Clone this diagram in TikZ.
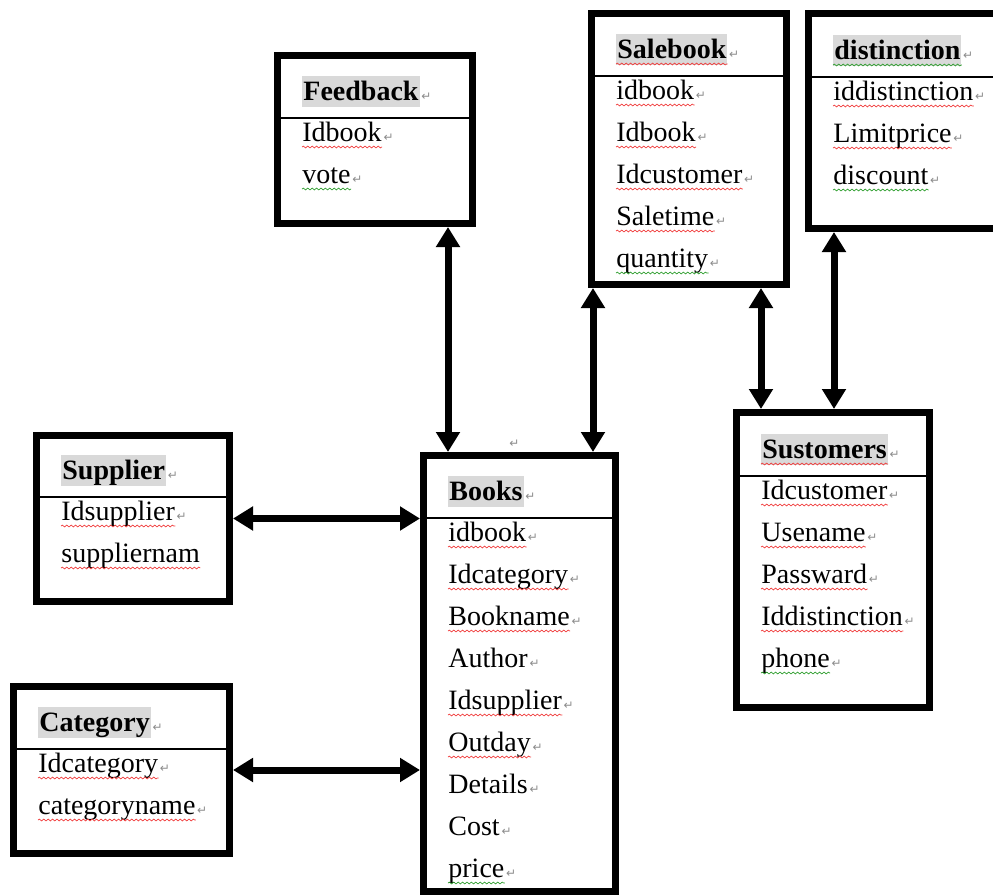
\documentclass[tikz,border=0pt]{standalone}
\usepackage{fontspec}
\setmainfont{Liberation Serif}
\newfontfamily\markfont{DejaVu Sans}
\usetikzlibrary{arrows.meta,decorations.pathmorphing}
\definecolor{hlgray}{HTML}{D9D9D9}
\definecolor{spellred}{HTML}{F03C3C}
\definecolor{spellgreen}{HTML}{2E9E2E}
\definecolor{markgray}{HTML}{8C8C8C}
\newcommand\rowfont{\fontsize{14}{17}\selectfont}

\tikzset{
  entity/.style={draw, line width=3.5pt, rectangle, inner sep=0pt, anchor=north west},
  sepline/.style={line width=.75pt, black},
  field/.style={anchor=base west, inner sep=0pt, font=\rowfont},
  tablename/.style={field, font=\rowfont\bfseries, fill=hlgray, inner xsep=.5pt, text height=12pt, text depth=3.5pt},
  retmark/.style={anchor=base west, inner sep=0pt, xshift=.5pt, font=\markfont\fontsize{6}{7}\selectfont, text=markgray},
  ret/.style={append after command={node[retmark] at (\tikzlastnode.base east) {↵}}},
  wavy/.style={decorate, decoration={snake, amplitude=.45pt, segment length=2.2pt}, line width=.35pt},
  typo/.style={append after command={([yshift=-3pt]\tikzlastnode.base west) edge[wavy, spellred] ([yshift=-3pt]\tikzlastnode.base east)}},
  gram/.style={append after command={([yshift=-3pt]\tikzlastnode.base west) edge[wavy, spellgreen] ([yshift=-3pt]\tikzlastnode.base east)}},
  link/.style={line width=3.5pt, {Triangle[width=11.5pt,length=10pt]}-{Triangle[width=11.5pt,length=10pt]}}
}

\begin{document}
\begin{tikzpicture}[x=0.5pt, y=-0.5pt]
\useasboundingbox (0,0) rectangle (993,895);
\clip (0,0) rectangle (993,895);

% tables
\node[entity, minimum width=97.5pt, minimum height=84pt] (feedback) at (274,52) {};
\node[entity, minimum width=97.5pt, minimum height=135.5pt] (salebook) at (588,10) {};
\node[entity, minimum width=97.5pt, minimum height=107.5pt] (distinction) at (805,10) {};
\node[entity, minimum width=96.5pt, minimum height=83pt] (supplier) at (33,432) {};
\node[entity, minimum width=108pt, minimum height=83.5pt] (category) at (10,683) {};
\node[entity, minimum width=96pt, minimum height=218pt] (books) at (420,452) {};
\node[entity, minimum width=96.5pt, minimum height=147.5pt] (customers) at (733,409) {};

\draw[sepline] (feedback.west |- 0,118) -- (feedback.east |- 0,118);
\draw[sepline] (salebook.west |- 0,76) -- (salebook.east |- 0,76);
\draw[sepline] (distinction.west |- 0,77) -- (distinction.east |- 0,77);
\draw[sepline] (supplier.west |- 0,497) -- (supplier.east |- 0,497);
\draw[sepline] (category.west |- 0,749) -- (category.east |- 0,749);
\draw[sepline] (books.west |- 0,518) -- (books.east |- 0,518);
\draw[sepline] (customers.west |- 0,476) -- (customers.east |- 0,476);

% Feedback
\node[tablename, ret] (f0) at (302,100) {Feedback};
\node[field, typo, ret] (f1) at (302,141) {Idbook};
\node[field, gram, ret] (f2) at (302,183) {vote};

% Salebook
\node[tablename, typo, ret] (s0) at (616,58) {Salebook};
\node[field, typo, ret] (s1) at (616,99) {idbook};
\node[field, typo, ret] (s2) at (616,141) {Idbook};
\node[field, typo, ret] (s3) at (616,183) {Idcustomer};
\node[field, typo, ret] (s4) at (616,225) {Saletime};
\node[field, gram, ret] (s5) at (616,267) {quantity};

% distinction
\node[tablename, gram, ret] (d0) at (833,59) {distinction};
\node[field, typo, ret] (d1) at (833,100) {iddistinction};
\node[field, typo, ret] (d2) at (833,142) {Limitprice};
\node[field, gram, ret] (d3) at (833,184) {discount};

% Supplier
\node[tablename, ret] (p0) at (61,479) {Supplier};
\node[field, typo, ret] (p1) at (61,520) {Idsupplier};
\node[field, typo] (p2) at (61,562) {suppliernam};

% Category
\node[tablename, ret] (c0) at (38,731) {Category};
\node[field, typo, ret] (c1) at (38,772) {Idcategory};
\node[field, typo, ret] (c2) at (38,814) {categoryname};

% Books
\node[tablename, ret] (b0) at (448,500) {Books};
\node[field, typo, ret] (b1) at (448,541) {idbook};
\node[field, typo, ret] (b2) at (448,583) {Idcategory};
\node[field, typo, ret] (b3) at (448,625) {Bookname};
\node[field, ret] (b4) at (448,667) {Author};
\node[field, typo, ret] (b5) at (448,709) {Idsupplier};
\node[field, typo, ret] (b6) at (448,751) {Outday};
\node[field, ret] (b7) at (448,793) {Details};
\node[field, ret] (b8) at (448,835) {Cost};
\node[field, gram, ret] (b9) at (448,877) {price};

% Sustomers
\node[tablename, typo, ret] (u0) at (761,458) {Sustomers};
\node[field, typo, ret] (u1) at (761,499) {Idcustomer};
\node[field, typo, ret] (u2) at (761,541) {Usename};
\node[field, typo, ret] (u3) at (761,583) {Passward};
\node[field, typo, ret] (u4) at (761,625) {Iddistinction};
\node[field, gram, ret] (u5) at (761,667) {phone};

\node[retmark] (stray) at (508,447) {↵};

% relations
\draw[link] ([xshift=14pt]books.north west) -- ([xshift=14pt]books.north west |- feedback.south);
\draw[link] ([xshift=-13pt]books.north east) -- ([xshift=-13pt]books.north east |- salebook.south);
\draw[link] ([xshift=14pt]customers.north west) -- ([xshift=14pt]customers.north west |- salebook.south);
\draw[link] ([xshift=50.5pt]customers.north west) -- ([xshift=50.5pt]customers.north west |- distinction.south);
\draw[link] (supplier.east) -- (supplier.east -| books.west);
\draw[link] (category.east) -- (category.east -| books.west);
\end{tikzpicture}
\end{document}
